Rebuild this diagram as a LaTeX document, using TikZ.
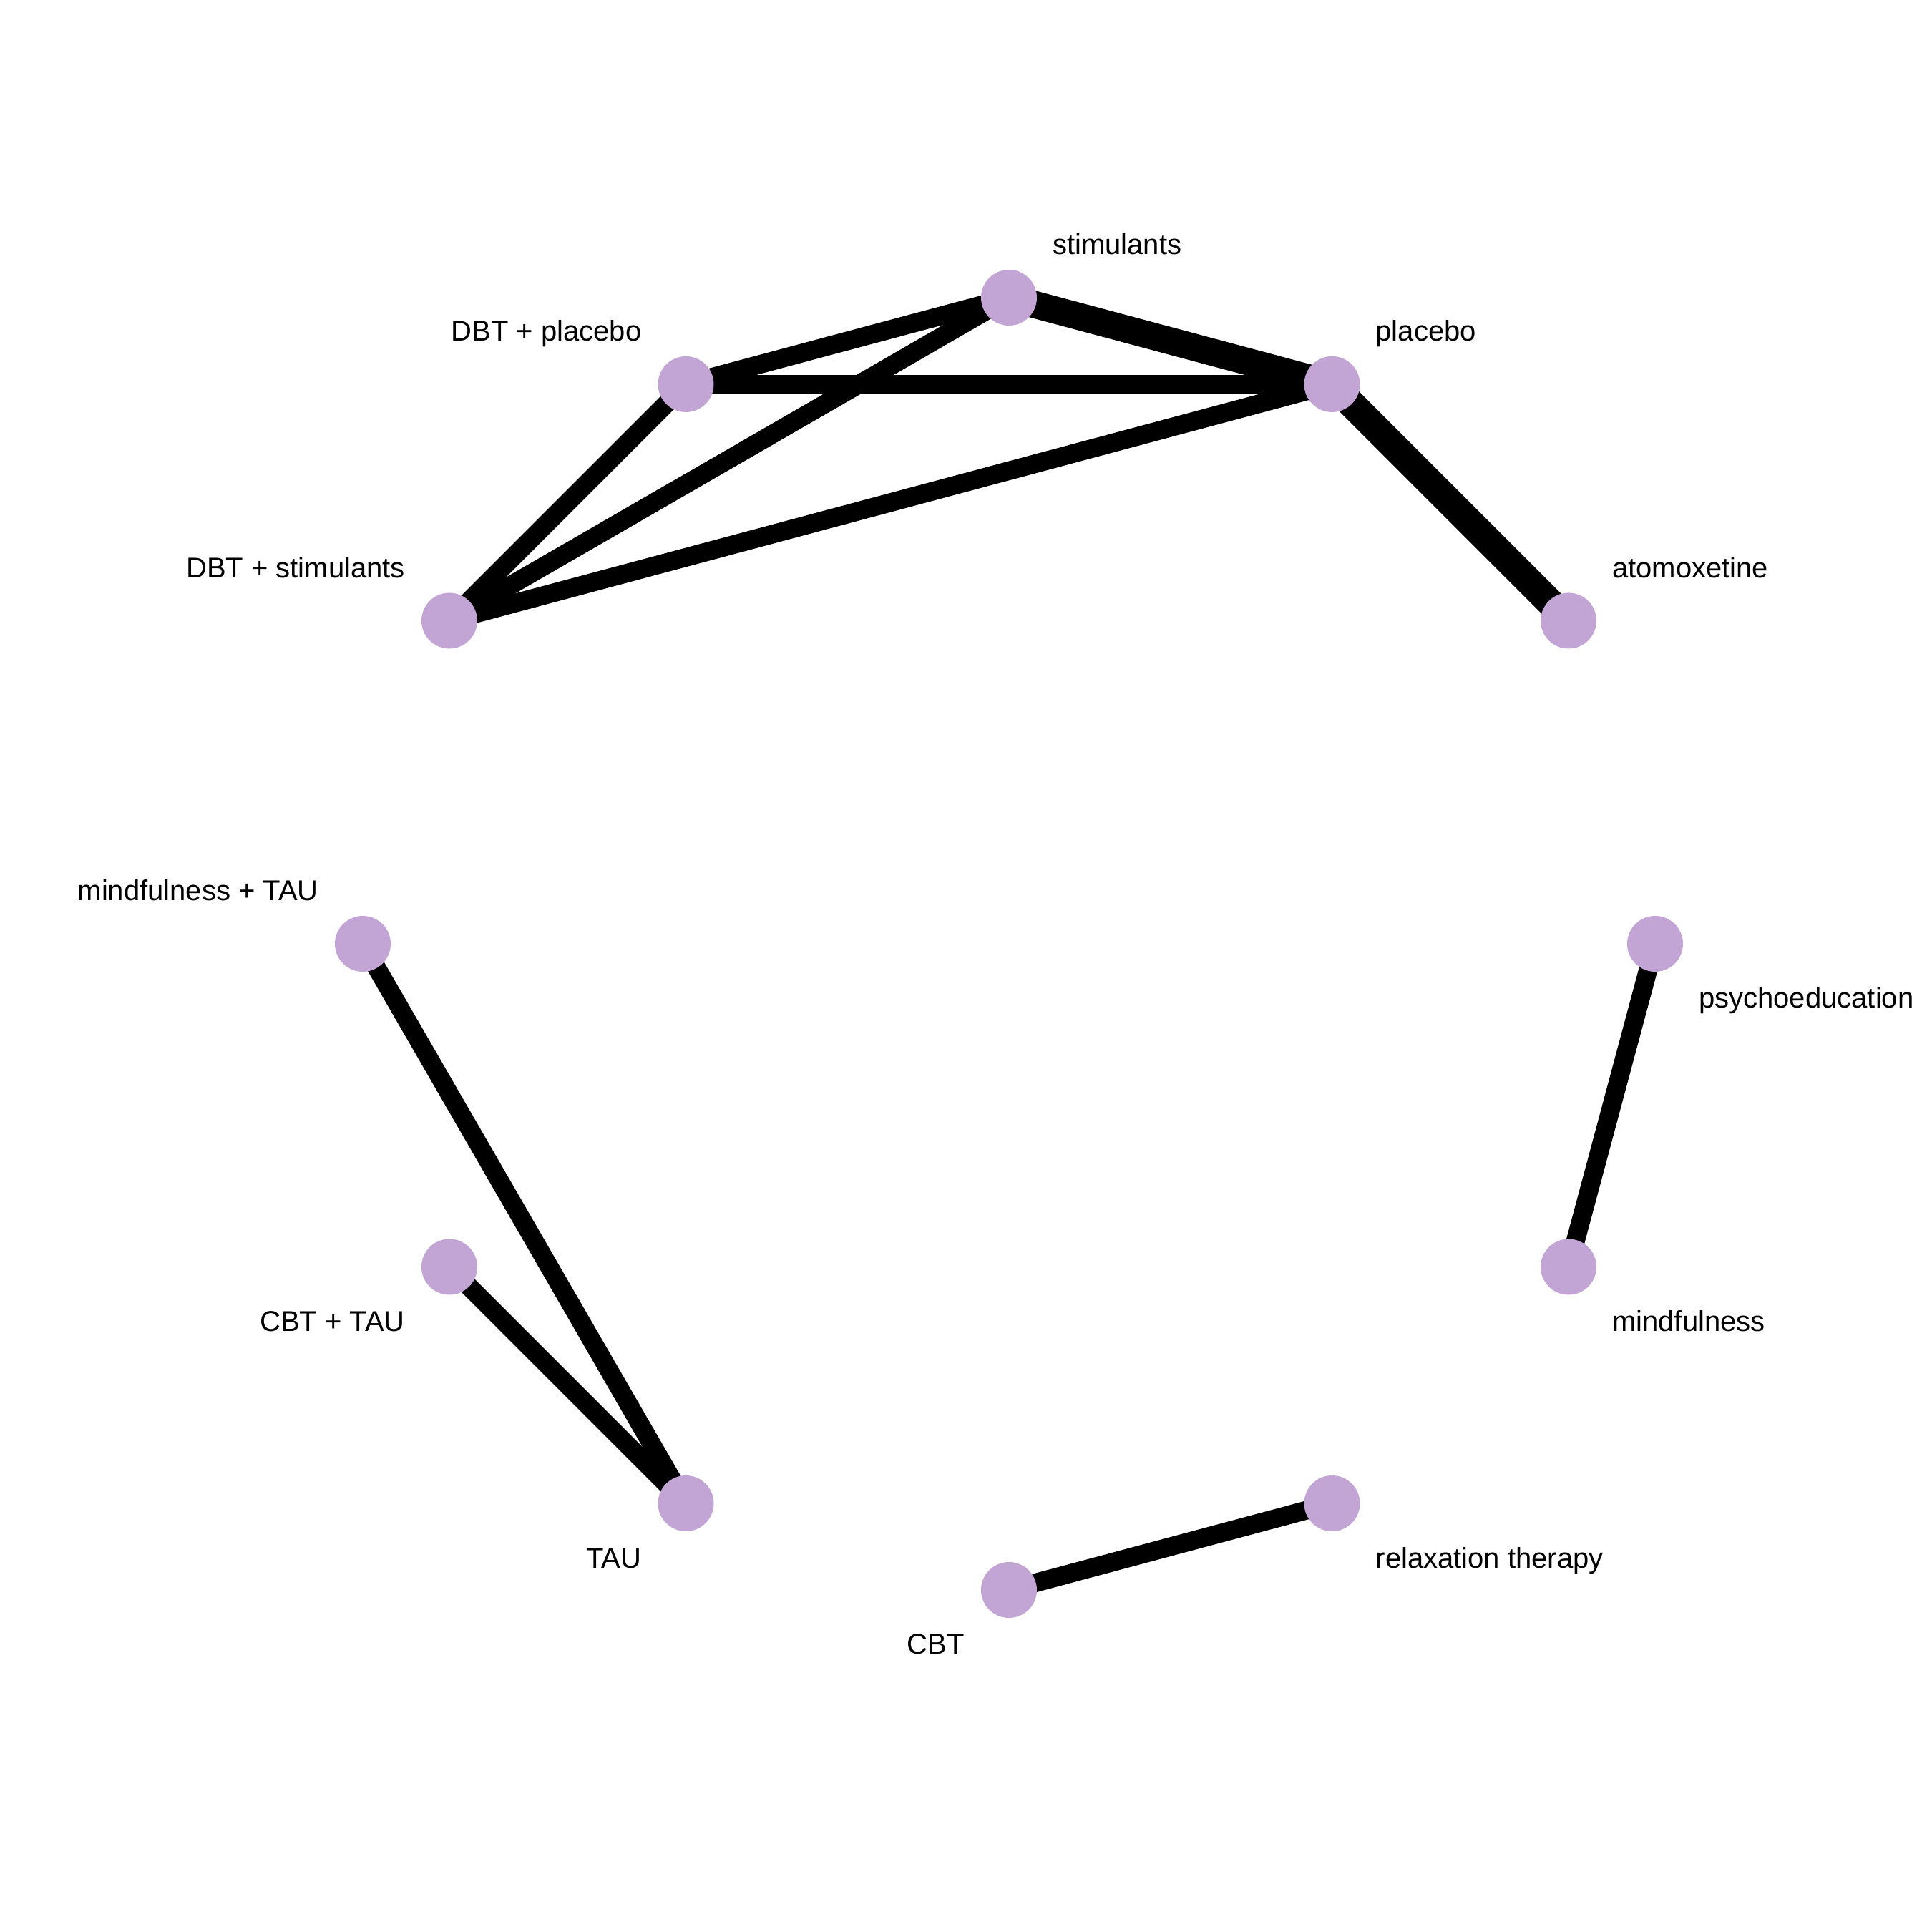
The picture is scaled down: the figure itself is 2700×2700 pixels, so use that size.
\documentclass[tikz,border=0pt]{standalone}
\usepackage{fontspec}
\setmainfont{Liberation Sans}
\usetikzlibrary{backgrounds}
\definecolor{nodepurple}{RGB}{195,165,213}
\begin{document}
\begin{tikzpicture}[
  trt/.style={circle, fill=nodepurple, draw=none, minimum size=78bp, inner sep=0pt},
  lbl/.style={inner sep=0pt, font=\fontsize{40bp}{48bp}\selectfont},
  thin edge/.style={line width=26bp, draw=black, line cap=butt},
  thick edge/.style={line width=38bp, draw=black, line cap=butt},
  thickest edge/.style={line width=39bp, draw=black, line cap=butt}
]
\useasboundingbox (0bp,0bp) rectangle (2700bp,2700bp);
\begin{scope}[shift={(1410bp,1381bp)}]
  \node[trt] (stim)  at (90:903bp) {};
  \node[trt] (plac)  at (60:903bp) {};
  \node[trt] (atom)  at (30:903bp) {};
  \node[trt] (psych) at (0:903bp) {};
  \node[trt] (mind)  at (-30:903bp) {};
  \node[trt] (relax) at (-60:903bp) {};
  \node[trt] (cbt)   at (-90:903bp) {};
  \node[trt] (tau)   at (-120:903bp) {};
  \node[trt] (cbttau) at (-150:903bp) {};
  \node[trt] (mindtau) at (180:903bp) {};
  \node[trt] (dbtstim) at (150:903bp) {};
  \node[trt] (dbtplac) at (120:903bp) {};
\end{scope}
% labels
\node[lbl, anchor=base west] (lstim) at ([shift={(61bp,60bp)}]stim.center) {stimulants};
\node[lbl, anchor=base west] (lplac) at ([shift={(61bp,60bp)}]plac.center) {placebo};
\node[lbl, anchor=base west] (latom) at ([shift={(61bp,60bp)}]atom.center) {atomoxetine};
\node[lbl, anchor=base west] (lpsych) at ([shift={(61bp,-90bp)}]psych.center) {psychoeducation};
\node[lbl, anchor=base west] (lmind) at ([shift={(61bp,-90bp)}]mind.center) {mindfulness};
\node[lbl, anchor=base west] (lrelax) at ([shift={(61bp,-90bp)}]relax.center) {relaxation therapy};
\node[lbl, anchor=base east] (lcbt) at ([shift={(-62bp,-90bp)}]cbt.center) {CBT};
\node[lbl, anchor=base east] (ltau) at ([shift={(-62bp,-90bp)}]tau.center) {TAU};
\node[lbl, anchor=base east] (lcbttau) at ([shift={(-62bp,-90bp)}]cbttau.center) {CBT + TAU};
\node[lbl, anchor=base east] (lmindtau) at ([shift={(-62bp,60bp)}]mindtau.center) {mindfulness + TAU};
\node[lbl, anchor=base east] (ldbtstim) at ([shift={(-62bp,60bp)}]dbtstim.center) {DBT + stimulants};
\node[lbl, anchor=base east] (ldbtplac) at ([shift={(-62bp,60bp)}]dbtplac.center) {DBT + placebo};
% edges
\begin{pgfonlayer}{background}
  \draw[thin edge] (stim.center) -- (dbtplac.center);
  \draw[thin edge] (stim.center) -- (dbtstim.center);
  \draw[thin edge] (dbtplac.center) -- (plac.center);
  \draw[thin edge] (dbtplac.center) -- (dbtstim.center);
  \draw[thin edge] (plac.center) -- (dbtstim.center);
  \draw[thick edge] (stim.center) -- (plac.center);
  \draw[thickest edge] (plac.center) -- (atom.center);
  \draw[thin edge] (mindtau.center) -- (tau.center);
  \draw[thin edge] (cbttau.center) -- (tau.center);
  \draw[thin edge] (psych.center) -- (mind.center);
  \draw[thin edge] (relax.center) -- (cbt.center);
\end{pgfonlayer}
\end{tikzpicture}
\end{document}
